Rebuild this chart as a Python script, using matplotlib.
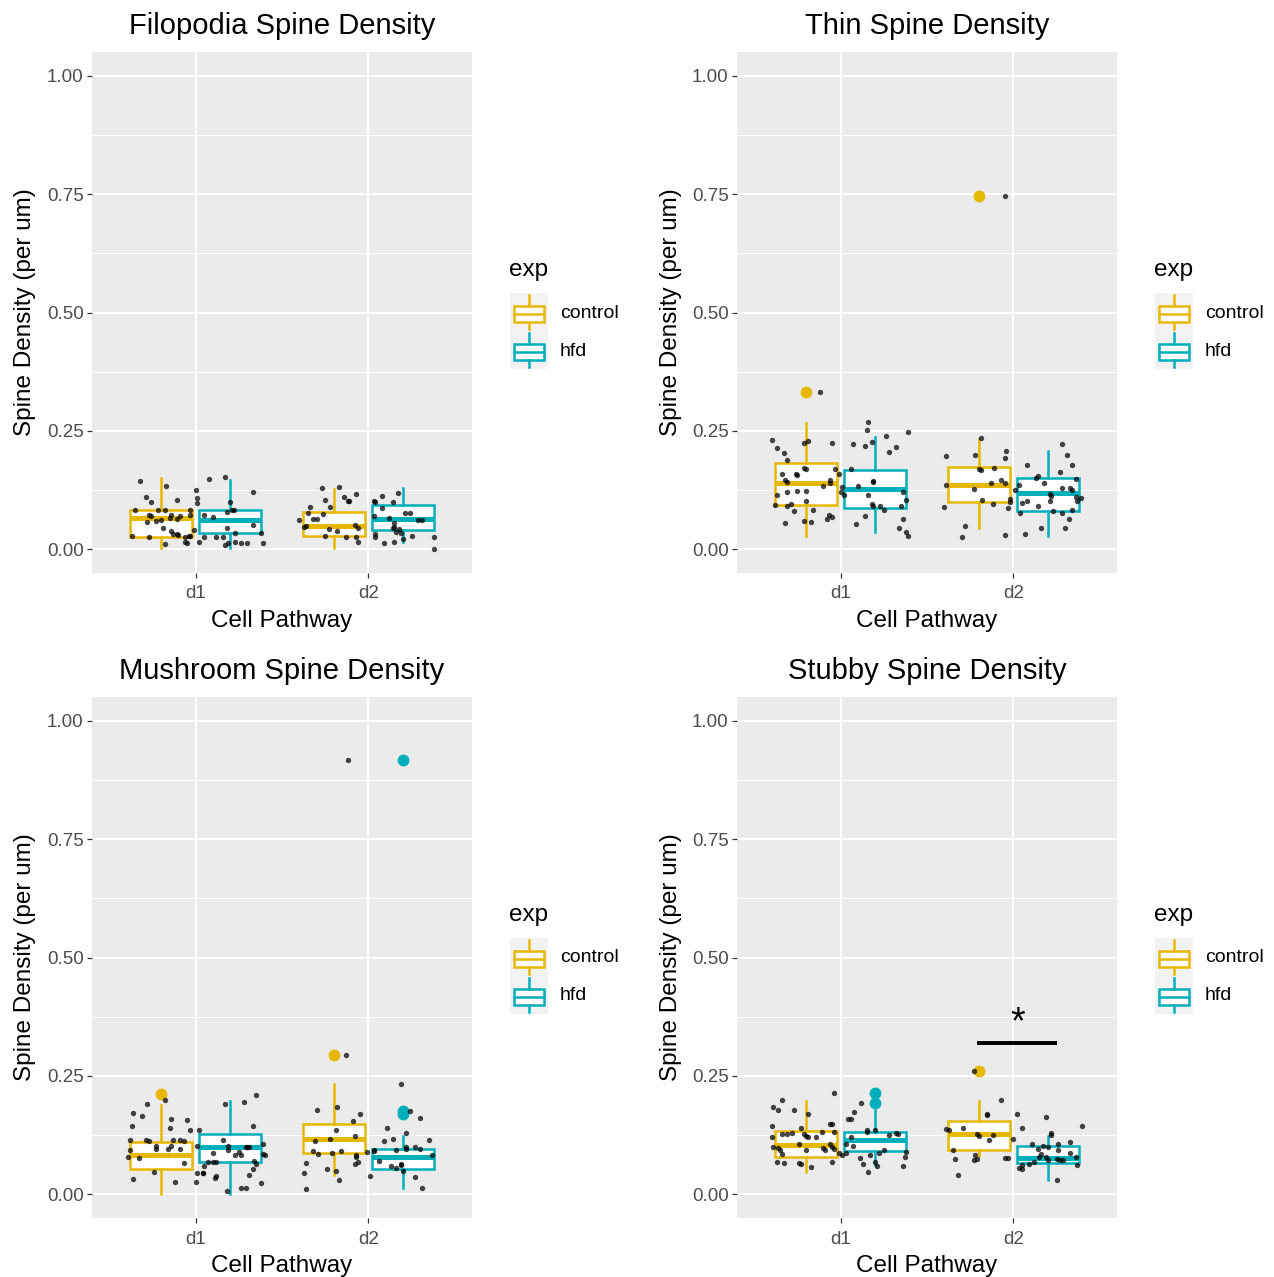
import matplotlib
matplotlib.use("Agg")
import matplotlib.pyplot as plt
from matplotlib.patches import Rectangle

plt.rcParams['font.family'] = ['Liberation Sans', 'DejaVu Sans']

W, H = 1274, 1277
DPI = 100

pathways = ['d1', 'd2']
groups = ['control', 'hfd']
colors = {'control': '#E7B800', 'hfd': '#00AFBB'}
titles = ['Filopodia Spine Density', 'Thin Spine Density',
          'Mushroom Spine Density', 'Stubby Spine Density']
y_ticks = [0.00, 0.25, 0.50, 0.75, 1.00]
y_tick_labels = ['0.00', '0.25', '0.50', '0.75', '1.00']

# box stats per pathway (d1, d2): (whislo, q1, median, q3, whishi)
filo_control_box = [(0.002, 0.025, 0.067, 0.083, 0.151), (0.002, 0.028, 0.049, 0.079, 0.127)]
filo_hfd_box = [(0.002, 0.035, 0.062, 0.084, 0.146), (0.016, 0.040, 0.063, 0.093, 0.130)]
filo_control_out = [[], []]
filo_hfd_out = [[], []]

thin_control_box = [(0.028, 0.094, 0.141, 0.183, 0.267), (0.044, 0.100, 0.136, 0.174, 0.233)]
thin_hfd_box = [(0.037, 0.087, 0.128, 0.167, 0.238), (0.028, 0.081, 0.118, 0.150, 0.207)]
thin_control_out = [[0.333], [0.745]]
thin_hfd_out = [[], []]

mush_control_box = [(0.000, 0.053, 0.082, 0.110, 0.189), (0.040, 0.087, 0.116, 0.148, 0.233)]
mush_hfd_box = [(0.001, 0.068, 0.100, 0.128, 0.197), (0.013, 0.054, 0.079, 0.096, 0.123)]
mush_control_out = [[0.211], [0.295]]
mush_hfd_out = [[], [0.918, 0.175, 0.169]]

stub_control_box = [(0.047, 0.079, 0.105, 0.134, 0.198), (0.080, 0.093, 0.128, 0.154, 0.198)]
stub_hfd_box = [(0.061, 0.091, 0.115, 0.132, 0.177), (0.030, 0.066, 0.077, 0.101, 0.124)]
stub_control_out = [[], [0.260]]
stub_hfd_out = [[0.214, 0.193], []]

# jittered raw points: horizontal jitter offset (category units) and density value
filo_d1_jit = [-0.32, -0.17, -0.29, -0.26, -0.11, -0.35, -0.22, -0.18, -0.14, -0.27, -0.26, -0.09, -0.20, -0.23, -0.28, -0.11, -0.15, -0.03, -0.03, -0.37, -0.27, -0.19, -0.14, -0.13, -0.11, -0.10, -0.06, -0.04, -0.03, -0.06, -0.05, -0.18, 0.00, 0.01, 0.01, 0.08, 0.17, 0.20, 0.33, 0.21, 0.22, 0.18, 0.10, 0.05, 0.05, 0.12, 0.16, 0.23, 0.18, 0.33, 0.38, 0.19, 0.23, 0.26, 0.30, 0.39, 0.17, 0.02, -0.01]
filo_d1_val = [0.145, 0.134, 0.110, 0.100, 0.105, 0.084, 0.084, 0.083, 0.072, 0.072, 0.071, 0.070, 0.061, 0.060, 0.057, 0.063, 0.066, 0.072, 0.083, 0.028, 0.025, 0.046, 0.039, 0.033, 0.032, 0.030, 0.027, 0.029, 0.028, 0.015, 0.014, 0.012, 0.125, 0.109, 0.097, 0.148, 0.152, 0.099, 0.122, 0.084, 0.082, 0.079, 0.068, 0.072, 0.027, 0.027, 0.027, 0.035, 0.046, 0.051, 0.035, 0.014, 0.015, 0.013, 0.013, 0.013, 0.010, 0.016, 0.041]
filo_d2_jit = [-0.27, -0.17, -0.25, -0.14, -0.12, -0.11, -0.07, -0.22, -0.34, -0.35, -0.26, -0.30, -0.32, -0.40, -0.36, -0.37, -0.23, -0.18, -0.08, -0.06, -0.25, -0.13, -0.07, -0.06, 0.03, 0.04, 0.08, 0.14, 0.17, 0.08, 0.03, 0.12, 0.21, 0.24, 0.29, 0.31, 0.15, 0.15, 0.18, 0.19, 0.16, 0.04, 0.04, 0.09, 0.15, 0.20, 0.25, 0.38, 0.38, 0.14]
filo_d2_val = [0.129, 0.132, 0.105, 0.111, 0.103, 0.101, 0.116, 0.089, 0.090, 0.076, 0.075, 0.063, 0.063, 0.062, 0.049, 0.048, 0.042, 0.038, 0.051, 0.045, 0.028, 0.025, 0.026, 0.015, 0.103, 0.099, 0.112, 0.100, 0.118, 0.087, 0.070, 0.067, 0.077, 0.076, 0.062, 0.062, 0.055, 0.048, 0.042, 0.034, 0.037, 0.032, 0.026, 0.014, 0.016, 0.021, 0.028, 0.027, 0.001, 0.046]

thin_d1_jit = [-0.12, -0.40, -0.37, -0.33, -0.19, -0.21, -0.05, -0.31, -0.25, -0.26, -0.34, -0.32, -0.31, -0.20, -0.21, -0.06, -0.06, -0.10, -0.37, -0.31, -0.25, -0.20, -0.38, -0.31, -0.29, -0.20, -0.27, -0.16, -0.32, -0.21, -0.17, -0.08, -0.07, -0.05, -0.03, -0.01, 0.00, 0.02, 0.01, 0.06, 0.07, 0.14, 0.15, 0.16, 0.18, 0.26, 0.28, 0.32, 0.39, 0.10, 0.19, 0.19, 0.16, 0.18, 0.19, 0.23, 0.25, 0.36, 0.38, 0.35, 0.14, 0.09, 0.36, 0.34, 0.38, 0.39]
thin_d1_val = [0.333, 0.230, 0.214, 0.204, 0.229, 0.224, 0.225, 0.188, 0.156, 0.159, 0.158, 0.146, 0.143, 0.170, 0.172, 0.146, 0.141, 0.134, 0.115, 0.122, 0.124, 0.124, 0.094, 0.091, 0.095, 0.101, 0.080, 0.082, 0.056, 0.060, 0.058, 0.063, 0.072, 0.068, 0.169, 0.160, 0.122, 0.114, 0.132, 0.170, 0.222, 0.219, 0.251, 0.269, 0.227, 0.240, 0.205, 0.217, 0.247, 0.134, 0.142, 0.145, 0.114, 0.096, 0.091, 0.091, 0.084, 0.122, 0.104, 0.091, 0.070, 0.053, 0.063, 0.045, 0.036, 0.028]
thin_d2_jit = [-0.05, -0.39, -0.19, -0.22, -0.20, -0.19, -0.11, -0.04, -0.05, -0.39, -0.23, -0.13, -0.07, -0.05, -0.02, -0.02, -0.18, -0.12, -0.40, -0.03, -0.28, -0.30, -0.05, 0.03, 0.01, 0.08, 0.13, 0.14, 0.18, 0.28, 0.31, 0.34, 0.27, 0.36, 0.33, 0.34, 0.28, 0.36, 0.37, 0.39, 0.21, 0.21, 0.05, 0.08, 0.16, 0.07, 0.30, 0.28, 0.32, 0.34, 0.23, 0.14, 0.04, 0.22]
thin_d2_val = [0.745, 0.198, 0.234, 0.200, 0.170, 0.167, 0.172, 0.207, 0.193, 0.136, 0.127, 0.139, 0.146, 0.141, 0.107, 0.100, 0.105, 0.096, 0.089, 0.087, 0.049, 0.027, 0.030, 0.136, 0.125, 0.177, 0.151, 0.155, 0.141, 0.222, 0.199, 0.179, 0.163, 0.149, 0.129, 0.125, 0.130, 0.110, 0.103, 0.108, 0.117, 0.101, 0.098, 0.101, 0.044, 0.032, 0.046, 0.076, 0.065, 0.082, 0.081, 0.091, 0.077, 0.113]

mush_d1_jit = [-0.36, -0.31, -0.28, -0.18, -0.37, -0.14, -0.15, -0.05, -0.03, -0.38, -0.29, -0.27, -0.23, -0.23, -0.13, -0.09, -0.07, -0.14, -0.16, -0.09, -0.38, -0.39, -0.33, -0.07, -0.24, -0.36, -0.12, 0.02, 0.01, 0.00, 0.04, 0.07, 0.05, 0.10, 0.12, 0.12, 0.11, 0.04, 0.01, 0.17, 0.28, 0.35, 0.33, 0.30, 0.25, 0.23, 0.26, 0.16, 0.19, 0.19, 0.29, 0.31, 0.34, 0.35, 0.33, 0.31, 0.18, 0.26, 0.29, 0.38, 0.39, 0.40, 0.39, 0.10]
mush_d1_val = [0.172, 0.165, 0.191, 0.200, 0.144, 0.158, 0.141, 0.156, 0.136, 0.114, 0.114, 0.113, 0.101, 0.096, 0.115, 0.114, 0.112, 0.101, 0.095, 0.096, 0.093, 0.079, 0.077, 0.066, 0.047, 0.033, 0.025, 0.136, 0.103, 0.027, 0.044, 0.068, 0.059, 0.068, 0.068, 0.038, 0.035, 0.044, 0.045, 0.191, 0.195, 0.210, 0.144, 0.100, 0.089, 0.082, 0.082, 0.114, 0.101, 0.093, 0.100, 0.100, 0.070, 0.063, 0.053, 0.041, 0.008, 0.013, 0.013, 0.023, 0.086, 0.082, 0.107, 0.087]
mush_d2_jit = [-0.13, -0.12, -0.30, -0.18, -0.05, -0.09, -0.19, -0.08, -0.31, -0.22, -0.32, -0.29, -0.21, -0.16, -0.07, -0.07, -0.06, -0.08, -0.36, -0.37, -0.24, -0.19, -0.17, -0.36, -0.01, 0.03, 0.03, 0.19, 0.24, 0.30, 0.11, 0.22, 0.09, 0.14, 0.16, 0.22, 0.27, 0.30, 0.35, 0.37, 0.22, 0.06, 0.13, 0.19, 0.19, 0.16, 0.01, 0.27, 0.31, 0.20]
mush_d2_val = [0.295, 0.918, 0.177, 0.184, 0.169, 0.154, 0.136, 0.124, 0.113, 0.116, 0.091, 0.086, 0.087, 0.091, 0.082, 0.079, 0.068, 0.063, 0.066, 0.045, 0.053, 0.049, 0.030, 0.012, 0.089, 0.094, 0.091, 0.233, 0.175, 0.161, 0.140, 0.129, 0.112, 0.116, 0.093, 0.100, 0.100, 0.095, 0.115, 0.084, 0.096, 0.070, 0.060, 0.063, 0.061, 0.056, 0.039, 0.037, 0.013, 0.049]

stub_d1_jit = [-0.39, -0.36, -0.34, -0.27, -0.19, -0.04, -0.40, -0.40, -0.34, -0.31, -0.28, -0.23, -0.21, -0.20, -0.19, -0.14, -0.11, -0.06, -0.05, -0.04, -0.39, -0.36, -0.35, -0.24, -0.20, -0.10, -0.09, -0.06, -0.05, -0.04, -0.34, -0.37, -0.33, -0.24, -0.23, -0.17, -0.05, -0.01, 0.01, 0.03, 0.03, 0.07, 0.06, 0.04, 0.06, 0.08, 0.12, 0.15, 0.15, 0.20, 0.28, 0.32, 0.33, 0.25, 0.22, 0.17, 0.11, 0.13, 0.16, 0.20, 0.21, 0.38, 0.36, 0.37]
stub_d1_val = [0.184, 0.177, 0.199, 0.177, 0.170, 0.214, 0.144, 0.121, 0.128, 0.127, 0.130, 0.139, 0.128, 0.124, 0.121, 0.121, 0.132, 0.148, 0.149, 0.132, 0.100, 0.098, 0.094, 0.107, 0.093, 0.098, 0.094, 0.107, 0.100, 0.096, 0.086, 0.068, 0.066, 0.066, 0.063, 0.058, 0.068, 0.087, 0.084, 0.087, 0.107, 0.102, 0.121, 0.158, 0.160, 0.174, 0.193, 0.132, 0.136, 0.136, 0.126, 0.129, 0.127, 0.094, 0.087, 0.084, 0.077, 0.065, 0.047, 0.068, 0.060, 0.089, 0.060, 0.079]
stub_d2_jit = [-0.23, -0.07, -0.15, -0.15, -0.29, -0.39, -0.37, -0.21, -0.20, -0.12, -0.14, 0.00, -0.35, -0.34, -0.23, -0.21, -0.22, -0.05, -0.03, -0.32, 0.02, 0.05, 0.19, 0.11, 0.14, 0.17, 0.20, 0.22, 0.22, 0.26, 0.33, 0.40, 0.26, 0.29, 0.36, 0.37, 0.19, 0.25, 0.27, 0.12, 0.09, 0.05, 0.05, 0.03, 0.20, 0.25, 0.16, 0.15, 0.33]
stub_d2_val = [0.260, 0.200, 0.167, 0.170, 0.140, 0.137, 0.136, 0.127, 0.124, 0.126, 0.114, 0.117, 0.094, 0.074, 0.072, 0.075, 0.082, 0.076, 0.077, 0.040, 0.169, 0.140, 0.163, 0.107, 0.096, 0.103, 0.100, 0.125, 0.129, 0.107, 0.110, 0.144, 0.093, 0.072, 0.079, 0.061, 0.079, 0.075, 0.072, 0.068, 0.065, 0.061, 0.054, 0.056, 0.072, 0.030, 0.086, 0.079, 0.087]

# significance annotation (stubby, d2 control vs hfd)
sig_x = [1.79, 2.255]
sig_y = 0.319
sig_label = '*'

panels = [
    (titles[0], filo_control_box, filo_hfd_box, filo_control_out, filo_hfd_out,
     [(filo_d1_jit, filo_d1_val), (filo_d2_jit, filo_d2_val)]),
    (titles[1], thin_control_box, thin_hfd_box, thin_control_out, thin_hfd_out,
     [(thin_d1_jit, thin_d1_val), (thin_d2_jit, thin_d2_val)]),
    (titles[2], mush_control_box, mush_hfd_box, mush_control_out, mush_hfd_out,
     [(mush_d1_jit, mush_d1_val), (mush_d2_jit, mush_d2_val)]),
    (titles[3], stub_control_box, stub_hfd_box, stub_control_out, stub_hfd_out,
     [(stub_d1_jit, stub_d1_val), (stub_d2_jit, stub_d2_val)]),
]

fig = plt.figure(figsize=(W / DPI, H / DPI), dpi=DPI)
fig.patch.set_facecolor('white')


def px_axes(x0, y0, x1, y1):
    return fig.add_axes([x0 / W, 1 - y1 / H, (x1 - x0) / W, (y1 - y0) / H])


origins = [(0, 0), (645, 0), (0, 645), (645, 645)]
PW, PH = 380, 521
DODGE = 0.2
BOXW = 0.36

for idx, (title, cbox, hbox, cout, hout, pts) in enumerate(panels):
    ox, oy = origins[idx]
    ax = px_axes(92 + ox, 52 + oy, 92 + ox + PW, 52 + oy + PH)
    ax.set_facecolor('#EBEBEB')
    for s in ax.spines.values():
        s.set_visible(False)
    ax.set_xlim(0.4, 2.6)
    ax.set_ylim(-0.05, 1.05)
    ax.set_yticks(y_ticks)
    ax.set_yticklabels(y_tick_labels)
    ax.set_yticks([0.125, 0.375, 0.625, 0.875], minor=True)
    ax.set_xticks([1, 2])
    ax.set_xticklabels(pathways)
    ax.grid(which='major', color='white', linewidth=1.5)
    ax.grid(which='minor', axis='y', color='white', linewidth=0.75)
    ax.set_axisbelow(True)
    ax.tick_params(which='major', length=3.5, width=0.9, color='#333333',
                   labelcolor='#4D4D4D', labelsize=13.5, pad=2.5)
    ax.tick_params(axis='x', which='major', pad=5.5)
    ax.tick_params(which='minor', length=0)

    for g, boxes, outs, off in (('control', cbox, cout, -DODGE), ('hfd', hbox, hout, DODGE)):
        stats = []
        for i, b in enumerate(boxes):
            stats.append(dict(whislo=b[0], q1=b[1], med=b[2], q3=b[3], whishi=b[4],
                              fliers=outs[i]))
        col = colors[g]
        ax.bxp(stats, positions=[1 + off, 2 + off], widths=BOXW, patch_artist=True,
               showcaps=False,
               boxprops=dict(facecolor='white', edgecolor=col, linewidth=1.8),
               whiskerprops=dict(color=col, linewidth=1.8),
               medianprops=dict(color=col, linewidth=3.6, solid_capstyle='butt'),
               flierprops=dict(marker='o', markerfacecolor=col, markeredgecolor=col,
                               markersize=7.5, linestyle='none'),
               manage_ticks=False, zorder=2)

    for i, (jit, val) in enumerate(pts):
        xs = [i + 1 + j for j in jit]
        ax.scatter(xs, val, s=15, color='black', alpha=0.72, linewidths=0, zorder=3)

    ax.set_title(title, fontsize=21, pad=13, color='black')
    ax.set_xlabel('Cell Pathway', fontsize=17.5, labelpad=5.5, color='black')
    ax.set_ylabel('Spine Density (per um)', fontsize=17.5, labelpad=7.5, color='black')

    if idx == 3:
        ax.plot(sig_x, [sig_y, sig_y], color='black', linewidth=2.8,
                solid_capstyle='butt', zorder=4)
        ax.text(sum(sig_x) / 2, sig_y + 0.004, sig_label, ha='center', va='bottom',
                fontsize=27, color='black', zorder=4)

    # legend
    lx, ly = 509 + ox, 270 + oy
    fig.text(lx / W, 1 - ly / H, 'exp', fontsize=17.5, ha='left', va='center')
    for k, g in enumerate(groups):
        ky0 = 293 + oy + k * 38
        kax = px_axes(510 + ox, ky0, 548 + ox, ky0 + 38)
        kax.set_xlim(0, 1)
        kax.set_ylim(1, 0)
        kax.axis('off')
        kax.add_patch(Rectangle((0, 0), 1, 1, facecolor='#F2F2F2', edgecolor='none'))
        col = colors[g]
        kax.add_patch(Rectangle((0.1, 0.33), 0.8, 0.44, facecolor='white',
                                edgecolor=col, linewidth=1.8))
        kax.plot([0.1, 0.9], [0.55, 0.55], color=col, linewidth=1.8)
        kax.plot([0.5, 0.5], [0.05, 0.33], color=col, linewidth=1.8)
        kax.plot([0.5, 0.5], [0.77, 0.95], color=col, linewidth=1.8)
        fig.text((560 + ox) / W, 1 - (ky0 + 20) / H, g, fontsize=14, ha='left', va='center')

fig.savefig('out.png', dpi=DPI)
